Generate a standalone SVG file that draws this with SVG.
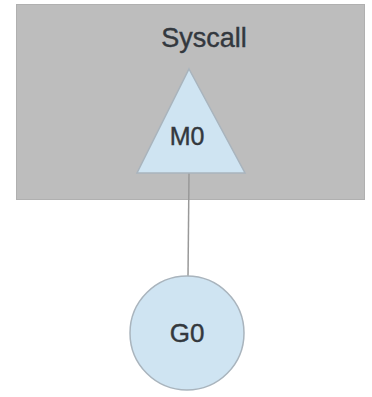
<svg xmlns="http://www.w3.org/2000/svg" width="372" height="397" viewBox="0 0 372 397">
<style>
.lbl{font-family:"Liberation Sans",Arial,sans-serif;fill:#33383e;stroke:#33383e;stroke-width:0.4;text-anchor:middle}
.node{fill:#cfe4f2;stroke:#a9b4bd;stroke-width:1.5}
</style>
<rect x="0" y="0" width="372" height="397" fill="#ffffff"/>
<g id="syscall">
<rect x="16.5" y="4.5" width="348" height="195" fill="#bdbdbd" stroke="#b0b0b0" stroke-width="1"/>
<text class="lbl" x="204" y="47" font-size="27">Syscall</text>
</g>
<g id="connectors">
<line x1="189" y1="173" x2="188" y2="277" stroke="#999999" stroke-width="1.5"/>
</g>
<g id="m0">
<polygon class="node" points="189,69 245,173 137,173"/>
<text class="lbl" x="187" y="145" font-size="25">M0</text>
</g>
<g id="g0">
<circle class="node" cx="187" cy="333" r="57"/>
<text class="lbl" x="187" y="342" font-size="26">G0</text>
</g>
</svg>
